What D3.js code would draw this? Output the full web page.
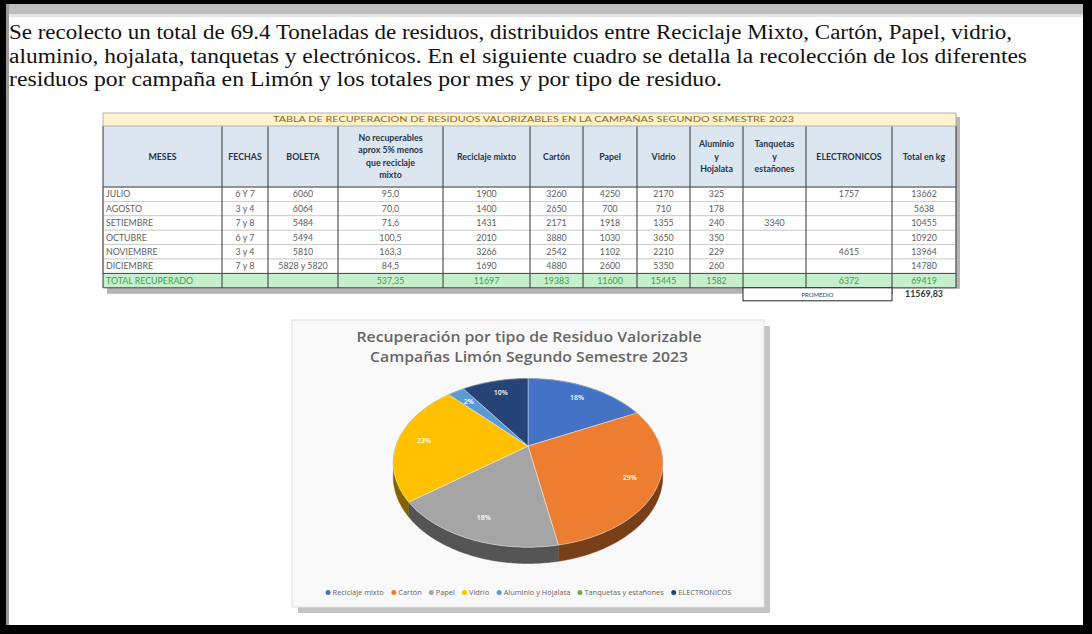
<!DOCTYPE html>
<html>
<head>
<meta charset="utf-8">
<script src="https://cdn.jsdelivr.net/npm/d3@7"></script>
<style>
  html, body { margin: 0; padding: 0; background: #000; }
  svg { display: block; }
</style>
</head>
<body>
<svg id="page" width="1092" height="634"></svg>
<script>
// --- data ---
const paragraph = [
  "Se recolecto un total de 69.4 Toneladas de residuos, distribuidos entre Reciclaje Mixto, Cartón, Papel, vidrio,",
  "aluminio, hojalata, tanquetas y electrónicos. En el siguiente cuadro se detalla la recolección de los diferentes",
  "residuos por campaña en Limón y los totales por mes y por tipo de residuo."
];

const tableTitle = "TABLA DE RECUPERACION DE RESIDUOS VALORIZABLES EN LA CAMPAÑAS SEGUNDO SEMESTRE 2023";
const headers = [
  ["MESES"], ["FECHAS"], ["BOLETA"],
  ["No recuperables", "aprox 5% menos", "que reciclaje", "mixto"],
  ["Reciclaje mixto"], ["Cartón"], ["Papel"], ["Vidrio"],
  ["Aluminio", "y", "Hojalata"], ["Tanquetas", "y", "estañones"],
  ["ELECTRONICOS"], ["Total en kg"]
];

const months = ["JULIO", "AGOSTO", "SETIEMBRE", "OCTUBRE", "NOVIEMBRE", "DICIEMBRE"];
const fechas = ["6 Y 7", "3 y 4", "7 y 8", "6 y 7", "3 y 4", "7 y 8"];
const boletas = ["6060", "6064", "5484", "5494", "5810", "5828 y 5820"];
const noRecuperables = ["95,0", "70,0", "71,6", "100,5", "163,3", "84,5"];
const reciclajeMixto = [1900, 1400, 1431, 2010, 3266, 1690];
const carton = [3260, 2650, 2171, 3880, 2542, 4880];
const papel = [4250, 700, 1918, 1030, 1102, 2600];
const vidrio = [2170, 710, 1355, 3650, 2210, 5350];
const aluminio = [325, 178, 240, 350, 229, 260];
const tanquetas = [null, null, 3340, null, null, null];
const electronicos = [1757, null, null, null, 4615, null];

const totalLabel = "TOTAL RECUPERADO";
const totalNoRecuperables = "537,35";
const promedioLabel = "PROMEDIO";
const promedio = "11569,83";

// chart: totals per waste type (tanquetas left blank in the total row -> 0)
const chartTitle = ["Recuperación por tipo de Residuo Valorizable", "Campañas Limón Segundo Semestre 2023"];
const categories = ["Reciclaje mixto", "Cartón", "Papel", "Vidrio", "Aluminio y Hojalata", "Tanquetas y estañones", "ELECTRONICOS"];
const typeTotals = [11697, 19383, 11600, 15445, 1582, 0, 6372];
const colors = ["#4472c4", "#ed7d31", "#a5a5a5", "#ffc000", "#5b9bd5", "#70ad47", "#264478"];

const svg = d3.select("#page");

// --- page frame ---
svg.append("rect").attr("width", 1092).attr("height", 634).attr("fill", "#000");
svg.append("rect").attr("x", 6).attr("y", 4).attr("width", 1077).attr("height", 621).attr("fill", "#fff");
svg.append("rect").attr("x", 6).attr("y", 4).attr("width", 1077).attr("height", 10).attr("fill", "#bdbdbd");
svg.append("rect").attr("x", 6).attr("y", 14).attr("width", 1077).attr("height", 3).attr("fill", "#e4e4e4");
svg.append("rect").attr("x", 6).attr("y", 4).attr("width", 3).attr("height", 621).attr("fill", "#9a9a9a");

// --- paragraph ---
const paraWidths = [1003, 1018, 713];
svg.append("g").selectAll("text").data(paragraph).join("text")
  .attr("x", 9)
  .attr("y", (d, i) => 39 + i * 23.5)
  .attr("textLength", (d, i) => paraWidths[i])
  .attr("lengthAdjust", "spacingAndGlyphs")
  .attr("font-family", "Liberation Serif, serif")
  .attr("font-size", 20)
  .attr("fill", "#111")
  .text(d => d);

// --- table ---
const colEdges = [103, 222, 268, 338, 443, 530, 583, 637, 690, 743, 806, 892, 956];
const titleTop = 113, headTop = 126, headBottom = 187, rowH = 14.4;
const table = svg.append("g").attr("font-family", "Lato, sans-serif");

const rows = months.map((m, i) => {
  const vals = [reciclajeMixto[i], carton[i], papel[i], vidrio[i], aluminio[i], tanquetas[i], electronicos[i]];
  return { cells: [m, fechas[i], boletas[i], noRecuperables[i]].concat(vals.map(v => v == null ? "" : String(v))),
           total: d3.sum(vals) };
});
const totalRow = [totalLabel, "", "", totalNoRecuperables]
  .concat(typeTotals.map(v => v ? String(v) : ""))
  .concat([String(d3.sum(rows, r => r.total))]);

const tableBottom = headBottom + rowH * (rows.length + 1);

// shadow
table.append("rect").attr("x", colEdges[0] + 4).attr("y", titleTop + 4)
  .attr("width", colEdges[12] - colEdges[0]).attr("height", tableBottom - titleTop + 2).attr("fill", "#b5b5b5");

table.append("rect").attr("x", colEdges[0]).attr("y", titleTop).attr("width", colEdges[12] - colEdges[0])
  .attr("height", headTop - titleTop).attr("fill", "#fff2cc");
table.append("text").attr("x", (colEdges[0] + colEdges[12]) / 2 + 4).attr("y", titleTop + 9)
  .attr("text-anchor", "middle").attr("font-size", 7.5).attr("fill", "#8a6d1a")
  .attr("textLength", 521).attr("lengthAdjust", "spacingAndGlyphs").text(tableTitle);

table.append("rect").attr("x", colEdges[0]).attr("y", headTop).attr("width", colEdges[12] - colEdges[0])
  .attr("height", headBottom - headTop).attr("fill", "#dce6f1");

headers.forEach((lines, c) => {
  const cx = (colEdges[c] + colEdges[c + 1]) / 2;
  const cy = (headTop + headBottom) / 2;
  table.append("g").selectAll("text").data(lines).join("text")
    .attr("x", cx)
    .attr("y", (d, i) => cy + 3.2 + (i - (lines.length - 1) / 2) * 12.5)
    .attr("text-anchor", "middle").attr("font-size", 8.8).attr("font-weight", 700)
    .attr("fill", "#2a3346").text(d => d);
});

rows.forEach((r, i) => {
  const y0 = headBottom + i * rowH;
  table.append("rect").attr("x", colEdges[0]).attr("y", y0).attr("width", colEdges[12] - colEdges[0])
    .attr("height", rowH).attr("fill", "#fff").attr("stroke", "#c8c8c8").attr("stroke-width", 0.8);
  r.cells.concat([String(r.total)]).forEach((v, c) => {
    table.append("text")
      .attr("x", c === 0 ? colEdges[0] + 3 : (colEdges[c] + colEdges[c + 1]) / 2)
      .attr("y", y0 + rowH / 2 + 3.2)
      .attr("text-anchor", c === 0 ? "start" : "middle")
      .attr("font-size", 8.8).attr("fill", "#606060").text(v);
  });
});

const ty = headBottom + rows.length * rowH;
table.append("rect").attr("x", colEdges[0]).attr("y", ty).attr("width", colEdges[12] - colEdges[0])
  .attr("height", rowH).attr("fill", "#c6efce");
totalRow.forEach((v, c) => {
  table.append("text")
    .attr("x", c === 0 ? colEdges[0] + 3 : (colEdges[c] + colEdges[c + 1]) / 2)
    .attr("y", ty + rowH / 2 + 3.2)
    .attr("text-anchor", c === 0 ? "start" : "middle")
    .attr("font-size", 8.8).attr("font-weight", c === 12 ? 700 : 400)
    .attr("fill", c === 12 ? "#0b7a1c" : "#3aa34f").text(v);
});

// grid
table.append("g").selectAll("line").data(colEdges).join("line")
  .attr("x1", d => d).attr("x2", d => d).attr("y1", headTop).attr("y2", tableBottom)
  .attr("stroke", "#333").attr("stroke-width", 1);
table.append("g").selectAll("line").data([titleTop, headTop, headBottom, ty, tableBottom]).join("line")
  .attr("x1", colEdges[0]).attr("x2", colEdges[12]).attr("y1", d => d).attr("y2", d => d)
  .attr("stroke", (d, i) => i < 2 ? "#b0b0b0" : "#444").attr("stroke-width", 1);
table.append("line").attr("x1", colEdges[0]).attr("x2", colEdges[0]).attr("y1", titleTop).attr("y2", headTop).attr("stroke", "#b0b0b0");
table.append("line").attr("x1", colEdges[12]).attr("x2", colEdges[12]).attr("y1", titleTop).attr("y2", headTop).attr("stroke", "#b0b0b0");

// promedio box
table.append("rect").attr("x", colEdges[9]).attr("y", tableBottom).attr("width", colEdges[11] - colEdges[9])
  .attr("height", 13).attr("fill", "#fff").attr("stroke", "#222").attr("stroke-width", 1);
table.append("text").attr("x", (colEdges[9] + colEdges[11]) / 2).attr("y", tableBottom + 9)
  .attr("text-anchor", "middle").attr("font-size", 6).attr("fill", "#444").text(promedioLabel);
table.append("rect").attr("x", colEdges[11] + 1).attr("y", tableBottom + 1).attr("width", colEdges[12] - colEdges[11] + 4)
  .attr("height", 12).attr("fill", "#fff");
table.append("text").attr("x", (colEdges[11] + colEdges[12]) / 2).attr("y", tableBottom + 9.5)
  .attr("text-anchor", "middle").attr("font-size", 8.8).attr("font-weight", 700).attr("fill", "#333").text(promedio);

// --- chart panel ---
const panel = { x: 292, y: 320, w: 472, h: 287 };
svg.append("rect").attr("x", panel.x + 6).attr("y", panel.y + 6).attr("width", panel.w).attr("height", panel.h).attr("fill", "#c4c4c4");
svg.append("rect").attr("x", panel.x).attr("y", panel.y).attr("width", panel.w).attr("height", panel.h)
  .attr("fill", "#f9f9f9").attr("stroke", "#e0e0e0");

svg.append("g").selectAll("text").data(chartTitle).join("text")
  .attr("x", 529).attr("y", (d, i) => 342 + i * 20)
  .attr("text-anchor", "middle")
  .attr("textLength", (d, i) => i === 0 ? 345 : 318)
  .attr("lengthAdjust", "spacingAndGlyphs")
  .attr("font-family", "Open Sans, sans-serif").attr("font-size", 14).attr("font-weight", 600)
  .attr("fill", "#666").text(d => d);

// 3D pie with a little perspective
const pcx = 528, pcy = 446, prx = 132, pry = 81, persp = 0.2, depth = 13;
function proj(r, a, dz) {
  const u = r * Math.sin(a), v = -r * Math.cos(a);
  const f = 1 / (1 - persp * v);
  return [pcx + prx * u * f, pcy + pry * v * f + (dz || 0) * f];
}
function arcPoints(a0, a1, r, dz) {
  const n = Math.max(2, Math.ceil((a1 - a0) / 0.02));
  return d3.range(n + 1).map(i => proj(r, a0 + (a1 - a0) * i / n, dz));
}

const pie = d3.pie().sort(null).value(d => d.value).startAngle(0).endAngle(2 * Math.PI);
const arcs = pie(categories.map((c, i) => ({ name: c, value: typeTotals[i], color: colors[i] })))
  .filter(a => a.data.value > 0);
const total = d3.sum(typeTotals);
const line = d3.line();

const pieG = svg.append("g");
pieG.selectAll("path.wall").data(arcs).join("path")
  .attr("class", "wall")
  .attr("d", a => {
    const top = arcPoints(a.startAngle, a.endAngle, 1, 0);
    const bot = arcPoints(a.startAngle, a.endAngle, 1, depth).reverse();
    return line(top.concat(bot)) + "Z";
  })
  .attr("fill", a => d3.color(a.data.color).darker(1.9))
  .attr("stroke", a => d3.color(a.data.color).darker(1.9)).attr("stroke-width", 0.5);

pieG.selectAll("path.top").data(arcs).join("path")
  .attr("class", "top")
  .attr("d", a => line([[pcx, pcy]].concat(arcPoints(a.startAngle, a.endAngle, 1, 0))) + "Z")
  .attr("fill", a => a.data.color)
  .attr("stroke", "#fff").attr("stroke-width", 0.4);

pieG.selectAll("text").data(arcs).join("text")
  .attr("x", a => proj(0.8, (a.startAngle + a.endAngle) / 2)[0])
  .attr("y", a => proj(0.8, (a.startAngle + a.endAngle) / 2)[1] + 2.5)
  .attr("text-anchor", "middle")
  .attr("font-family", "Open Sans, sans-serif").attr("font-size", 7).attr("font-weight", 600)
  .attr("fill", "#fff")
  .text(a => d3.format(".0%")(a.data.value / total));

// legend
const legend = svg.append("g").attr("font-family", "Open Sans, sans-serif").attr("font-size", 7.4).attr("fill", "#666");
const items = legend.selectAll("g").data(categories).join("g");
items.append("circle").attr("r", 2.5).attr("cy", -2.4).attr("fill", (d, i) => colors[i]);
items.append("text").attr("x", 4.5).attr("y", 0).text(d => d);
let lx = 0;
items.each(function() {
  const w = this.getBBox().width;
  d3.select(this).attr("transform", "translate(" + lx + ",0)");
  lx += w + 7;
});
const legendW = lx - 7;
legend.attr("transform", "translate(" + (531 - legendW / 2) + ",595)");
</script>
</body>
</html>
